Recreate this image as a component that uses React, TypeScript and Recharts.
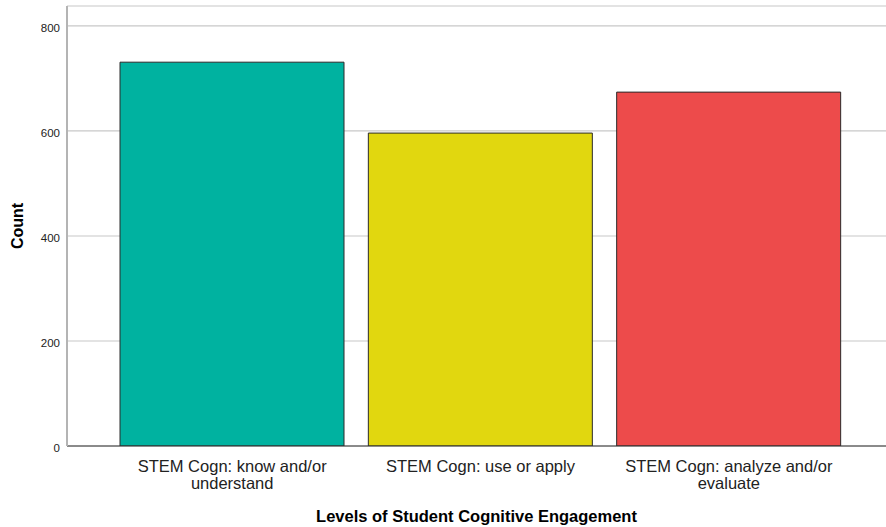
import React from "react"
import { BarChart, Bar, XAxis, YAxis, CartesianGrid, Cell, Label, Text } from "recharts"

const categories = [
  "STEM Cogn: know and/or understand",
  "STEM Cogn: use or apply",
  "STEM Cogn: analyze and/or evaluate",
]
const counts = [731, 596, 674]
const barColors = ["#00B2A0", "#E1D70F", "#ED4B4B"]
const yTicks = [0, 200, 400, 600, 800]

const data = categories.map((name, i) => ({ name, count: counts[i] }))

const FONT = "'Liberation Sans', Arial, sans-serif"

const CategoryTick = (props: any) => {
  const { x, y, payload } = props
  return (
    <Text
      x={x}
      y={y}
      width={210}
      lineHeight={17}
      textAnchor="middle"
      verticalAnchor="start"
      fill="#222"
      style={{ fontFamily: FONT, fontSize: 16.5 }}
    >
      {payload.value}
    </Text>
  )
}

export default function App() {
  return (
    <div style={{ position: "absolute", left: 0, top: 0, width: 886, height: 527, background: "#fff" }}>
      <BarChart width={886} height={527} data={data} margin={{ top: 6, right: 0, left: 0, bottom: 0 }}>
        <CartesianGrid vertical={false} stroke="#c8c8c8" strokeWidth={1.2} />
        <XAxis
          dataKey="name"
          height={81}
          padding={{ left: 41, right: 33 }}
          axisLine={{ stroke: "#333", strokeWidth: 1 }}
          tickLine={false}
          tickSize={6}
          tickMargin={8}
          interval={0}
          tick={<CategoryTick />}
        >
          <Label
            value="Levels of Student Cognitive Engagement"
            position="insideBottom"
            offset={5}
            fill="#000"
            style={{ fontFamily: FONT, fontSize: 16.5, fontWeight: "bold" }}
          />
        </XAxis>
        <YAxis
          width={67}
          domain={[0, 838]}
          ticks={yTicks}
          allowDataOverflow
          axisLine={{ stroke: "#b4b4b4", strokeWidth: 2 }}
          tickLine={false}
          tickSize={5}
          tickMargin={2}
          tick={{ fill: "#222", fontSize: 11.5, fontFamily: FONT, dy: 2 }}
        >
          <Label
            value="Count"
            angle={-90}
            position="insideLeft"
            offset={17}
            fill="#000"
            style={{ fontFamily: FONT, fontSize: 16, fontWeight: "bold", textAnchor: "middle" }}
          />
        </YAxis>
        <Bar dataKey="count" barSize={224} stroke="#2a2a2a" strokeWidth={1} isAnimationActive={false}>
          {data.map((d, i) => (
            <Cell key={d.name} fill={barColors[i]} />
          ))}
        </Bar>
      </BarChart>
    </div>
  )
}
